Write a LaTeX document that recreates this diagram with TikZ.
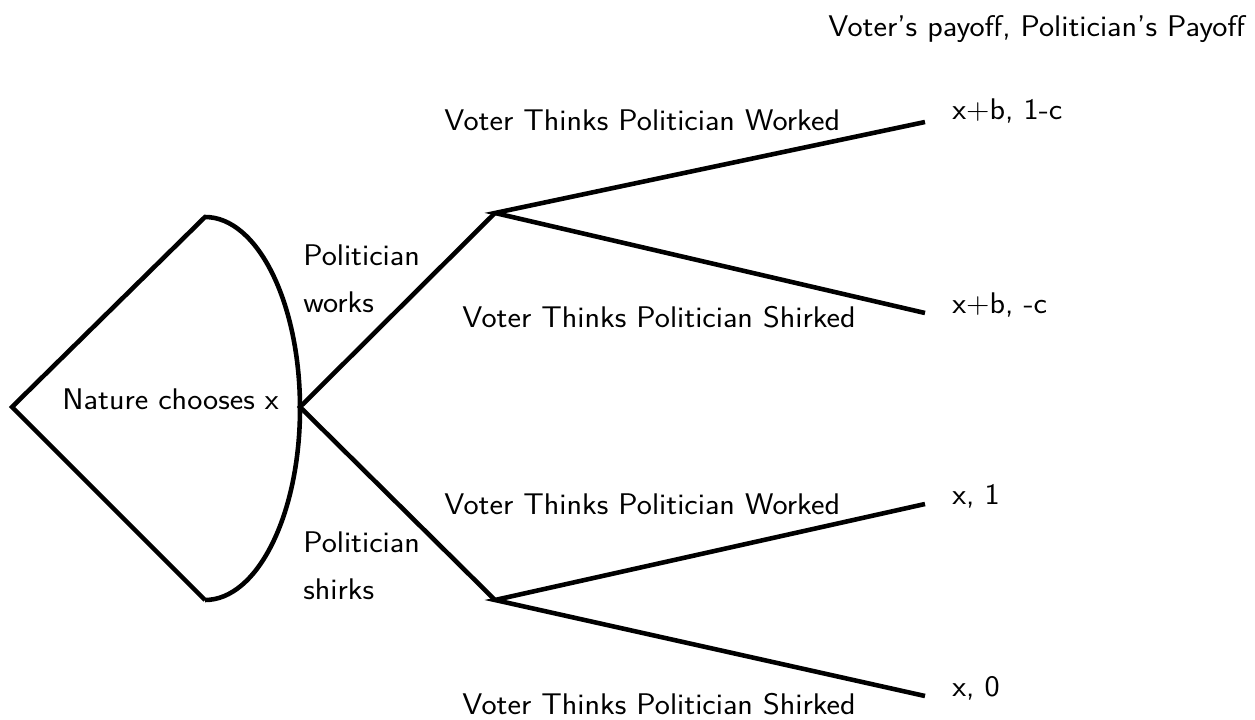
\documentclass[tikz,border=0pt]{standalone}
\usepackage{tikz}
\usepackage{graphicx}
\usetikzlibrary{positioning}
\newcommand\gtw[1]{\scalebox{1.075}[1]{#1}}
\tikzset{
  gtedge/.style={line width=2.6pt, line join=miter},
  gtlab/.style={font=\sffamily\fontsize{17}{27}\selectfont, inner sep=0pt, anchor=base west},
  gtlab2/.style={font=\sffamily\fontsize{17}{27}\selectfont, inner sep=0pt, align=left, anchor=west}
}
\begin{document}
\begin{tikzpicture}[x=0.02cm, y=-0.02cm]
  \useasboundingbox (0,0) rectangle (1255,720);
  % decision points
  \coordinate (root) at (12,407);
  \coordinate (ntop) at (205,217);
  \coordinate (nbot) at (205,600);
  \coordinate (pol) at (300,407);
  \coordinate (work) at (495,213);
  \coordinate (shirk) at (495,600);
  \coordinate (ww) at (925,122);
  \coordinate (ws) at (925,313);
  \coordinate (sw) at (925,504);
  \coordinate (ss) at (925,696);
  % nature
  \draw[gtedge] (nbot) -- (root) -- (ntop) arc[start angle=-90, end angle=90, x radius=95, y radius=191.5];
  % politician
  \draw[gtedge] (work) -- (pol) -- (shirk);
  % voter
  \draw[gtedge] (ww) -- (work) -- (ws);
  \draw[gtedge] (sw) -- (shirk) -- (ss);
  % labels
  \node[gtlab] (nat) at (62,409) {\gtw{Nature chooses x}};
  \node[gtlab2] (pw) at (303,279) {\gtw{Politician}\\\gtw{works}};
  \node[gtlab2] (ps) at (303,566) {\gtw{Politician}\\\gtw{shirks}};
  \node[gtlab] (vww) at (444,130) {\gtw{Voter Thinks Politician Worked}};
  \node[gtlab] (vws) at (462,327) {\gtw{Voter Thinks Politician Shirked}};
  \node[gtlab] (vsw) at (444,514) {\gtw{Voter Thinks Politician Worked}};
  \node[gtlab] (vss) at (462,714) {\gtw{Voter Thinks Politician Shirked}};
  \node[gtlab] (head) at (828,36) {\gtw{Voter's payoff, Politician's Payoff}};
  \node[gtlab] (pww) at (952,119) {\gtw{x+b, 1-c}};
  \node[gtlab] (pws) at (952,313) {\gtw{x+b, -c}};
  \node[gtlab] (psw) at (952,504) {\gtw{x, 1}};
  \node[gtlab] (pss) at (952,696) {\gtw{x, 0}};
\end{tikzpicture}
\end{document}
